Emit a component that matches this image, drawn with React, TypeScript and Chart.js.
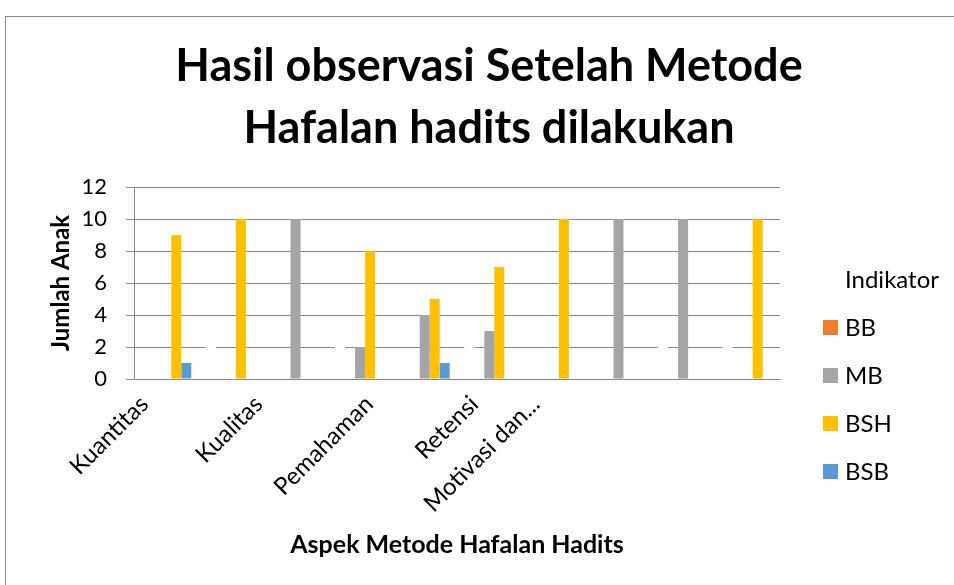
import React, { useEffect, useRef } from "react";
import { Chart, registerables } from "chart.js";

Chart.register(...registerables);

// ---- data ----
const titleLines = ["Hasil observasi Setelah Metode", "Hafalan hadits dilakukan"];
const xAxisTitle = "Aspek Metode Hafalan Hadits";
const yAxisTitle = "Jumlah Anak";
const legendTitle = "Indikator";
const categories = ["Kuantitas", "", "Kualitas", "", "Pemahaman", "", "Retensi", "", "Motivasi dan...", ""];
const seriesNames = ["BB", "MB", "BSH", "BSB"];
const seriesColors = ["#ED7D31", "#A5A5A5", "#FFC000", "#5B9BD5"];
// white, unlabelled first series (only visible where it hides the gridline at 2)
const blankValues = [0, 2, 0, 2, 0, 2, 0, 0, 2, 2];
const bbValues = [0, 0, 0, 0, 0, 0, 0, 0, 0, 0];
const mbValues = [0, 0, 10, 2, 4, 3, 0, 10, 10, 0];
const bshValues = [9, 10, 0, 8, 5, 7, 10, 0, 0, 10];
const bsbValues = [1, 0, 0, 0, 1, 0, 0, 0, 0, 0];
const yMin = 0;
const yMax = 12;
const yStep = 2;

const FONT = "Lato, 'Open Sans', sans-serif";
const GRID = "#898989";

export default function App() {
  const ref = useRef<HTMLCanvasElement | null>(null);

  useEffect(() => {
    if (!ref.current) return;
    const seriesValues = [bbValues, mbValues, bshValues, bsbValues];
    // the category names that carry a visible label, and where (in category units)
    // the rotated text is anchored, as laid out in the reference
    const shownIdx = categories.map((c, i) => (c ? i : -1)).filter((i) => i >= 0);
    const labelAnchor = [-0.34, 1.43, 3.14, 4.77, 5.72];

    const chart = new Chart(ref.current, {
      type: "bar",
      data: {
        labels: categories,
        datasets: [
          {
            label: "",
            data: blankValues,
            backgroundColor: "#FFFFFF",
            borderWidth: 0,
            xAxisID: "x",
            yAxisID: "y",
          },
          ...seriesNames.map((name, i) => ({
            label: name,
            data: seriesValues[i],
            backgroundColor: seriesColors[i],
            borderWidth: 0,
            xAxisID: "x",
            yAxisID: "y",
          })),
        ],
      },
      options: {
        responsive: false,
        animation: false,
        devicePixelRatio: 1,
        layout: { padding: { left: 24, right: 0, top: 0, bottom: 0 } },
        datasets: {
          bar: { categoryPercentage: 0.774, barPercentage: 1 },
        },
        plugins: {
          legend: { display: false },
          tooltip: { enabled: false },
          title: {
            display: true,
            text: titleLines,
            color: "#000",
            font: { family: FONT, size: 45, weight: "bold", lineHeight: 62 / 45 },
            padding: { top: 35, bottom: 28 },
          },
        },
        scales: {
          x: {
            type: "category",
            position: "bottom",
            z: 1,
            grid: { display: false, drawTicks: false },
            border: { display: true, color: GRID, width: 1 },
            ticks: { display: false },
            afterFit: (s: any) => {
              s.height = 0;
            },
          },
          xLabels: {
            type: "linear",
            axis: "x",
            position: "bottom",
            weight: 1,
            offset: false,
            min: -0.5,
            max: categories.length - 0.5,
            grid: { display: false, drawTicks: false, offset: false },
            border: { display: false },
            afterBuildTicks: (s: any) => {
              s.ticks = labelAnchor.map((v) => ({ value: v }));
            },
            ticks: {
              autoSkip: false,
              maxRotation: 45,
              minRotation: 45,
              padding: 11,
              color: "#000",
              font: { family: FONT, size: 24 },
              callback: (_v: any, i: number) => categories[shownIdx[i]],
            },
            title: {
              display: true,
              text: xAxisTitle,
              color: "#000",
              font: { family: FONT, size: 25, weight: "bold" },
              padding: { top: 0, bottom: 25 },
            },
            afterFit: (s: any) => {
              s.height = 585 - 379;
            },
          },
          y: {
            min: yMin,
            max: yMax,
            ticks: {
              stepSize: yStep,
              padding: 19,
              color: "#000",
              font: { family: FONT, size: 22 },
            },
            grid: { color: GRID, tickLength: 8, drawTicks: true },
            border: { display: true, color: GRID },
            title: {
              display: true,
              text: yAxisTitle,
              color: "#000",
              font: { family: FONT, size: 24, weight: "bold" },
              padding: { top: 23, bottom: 0 },
            },
            afterFit: (s: any) => {
              s.width = 110;
            },
          },
          spacer: {
            type: "linear",
            axis: "y",
            position: "right",
            display: true,
            grid: { display: false, drawTicks: false },
            border: { display: false },
            ticks: { display: false },
            afterFit: (s: any) => {
              s.width = 174;
            },
          },
        },
      } as any,
    });
    return () => chart.destroy();
  }, []);

  return (
    <div
      style={{
        position: "fixed",
        left: 0,
        top: 0,
        width: 954,
        height: 585,
        overflow: "hidden",
        background: "#fff",
      }}
    >
      <div
        style={{
          position: "absolute",
          left: 5,
          top: 16,
          width: 1100,
          height: 800,
          border: "1px solid #8c8c8c",
        }}
      />
      <canvas
        ref={ref}
        width={954}
        height={585}
        style={{ position: "absolute", left: 0, top: 0, width: 954, height: 585 }}
      />
      <div
        style={{
          position: "absolute",
          left: 823,
          top: 255,
          fontFamily: FONT,
          fontSize: 24,
          color: "#000",
        }}
      >
        <div style={{ height: 48, lineHeight: "48px", marginLeft: 22 }}>{legendTitle}</div>
        {seriesNames.map((name, i) => (
          <div key={name} style={{ height: 48, display: "flex", alignItems: "center" }}>
            <span
              style={{
                display: "inline-block",
                width: 15,
                height: 15,
                background: seriesColors[i],
                marginRight: 7,
              }}
            />
            <span style={{ lineHeight: "48px" }}>{name}</span>
          </div>
        ))}
      </div>
    </div>
  );
}
